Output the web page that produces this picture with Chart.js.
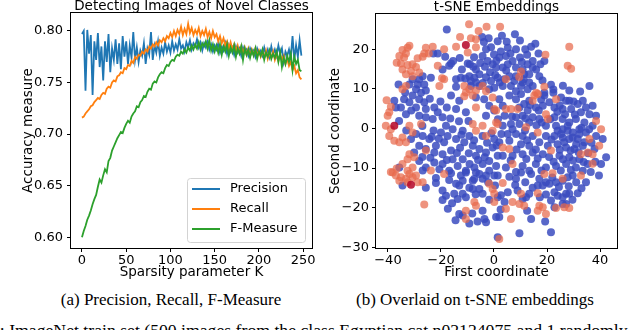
<!DOCTYPE html>
<html>
<head>
<meta charset="utf-8">
<script src="https://cdn.jsdelivr.net/npm/chart.js@4.4.1/dist/chart.umd.min.js"></script>
<style>
    body { margin: 0; width: 640px; height: 330px; overflow: hidden; background: #fff; position: relative; }
    .panel { position: absolute; top: 0; width: 320px; height: 290px; }
    .caption { position: absolute; font-family: 'Liberation Serif', serif; font-size: 17px; line-height: 20px; text-align: center; color: #000; white-space: nowrap; }
</style>
</head>
<body>
<div class="panel" style="left:0"><canvas id="accuracyChart" width="320" height="290"></canvas></div>
<div class="panel" style="left:320px"><canvas id="tsneChart" width="320" height="290"></canvas></div>
<div class="caption" style="left:0;width:342px;top:290px">(a) Precision, Recall, F-Measure</div>
<div class="caption" style="left:320px;width:310px;top:290px">(b) Overlaid on t-SNE embeddings</div>
<div class="caption" style="left:-9px;top:320px;text-align:left;font-size:17.7px">y: ImageNet train set (500 images from the class Egyptian cat n02124075 and 1 randomly</div>
<script>
// Left panel data: sparsity parameter K and the three measures
const sparsityK = [
    0, 2, 4, 6, 8, 10, 12, 14, 16, 18, 20, 22, 24, 26, 28, 30, 32, 34, 36, 38,
    40, 42, 44, 46, 48, 50, 52, 54, 56, 58, 60, 62, 64, 66, 68, 70, 72, 74, 76, 78,
    80, 82, 84, 86, 88, 90, 92, 94, 96, 98, 100, 102, 104, 106, 108, 110, 112, 114, 116, 118,
    120, 122, 124, 126, 128, 130, 132, 134, 136, 138, 140, 142, 144, 146, 148, 150, 152, 154, 156, 158,
    160, 162, 164, 166, 168, 170, 172, 174, 176, 178, 180, 182, 184, 186, 188, 190, 192, 194, 196, 198,
    200, 202, 204, 206, 208, 210, 212, 214, 216, 218, 220, 222, 224, 226, 228, 230, 232, 234, 236, 238,
    240, 242, 244, 246, 248
];
const precision = [
    0.797, 0.800, 0.742, 0.801, 0.778, 0.796, 0.738, 0.790, 0.772, 0.798,
    0.765, 0.785, 0.752, 0.790, 0.770, 0.797, 0.760, 0.783, 0.772, 0.792,
    0.768, 0.788, 0.763, 0.795, 0.775, 0.790, 0.768, 0.786, 0.774, 0.799,
    0.772, 0.784, 0.770, 0.781, 0.776, 0.788, 0.768, 0.783, 0.777, 0.799,
    0.772, 0.786, 0.779, 0.790, 0.776, 0.784, 0.778, 0.789, 0.780, 0.786,
    0.779, 0.790, 0.781, 0.787, 0.782, 0.792, 0.783, 0.786, 0.780, 0.789,
    0.784, 0.791, 0.782, 0.788, 0.785, 0.792, 0.784, 0.789, 0.781, 0.788,
    0.784, 0.790, 0.782, 0.787, 0.780, 0.786, 0.782, 0.788, 0.779, 0.785,
    0.781, 0.788, 0.778, 0.786, 0.780, 0.784, 0.777, 0.785, 0.779, 0.783,
    0.776, 0.784, 0.779, 0.782, 0.776, 0.783, 0.778, 0.781, 0.775, 0.783,
    0.778, 0.781, 0.776, 0.784, 0.777, 0.782, 0.775, 0.785, 0.777, 0.782,
    0.776, 0.786, 0.778, 0.783, 0.770, 0.780, 0.776, 0.782, 0.774, 0.795,
    0.772, 0.786, 0.775, 0.791, 0.776
];
const recall = [
    0.716, 0.717, 0.720, 0.722, 0.724, 0.727, 0.728, 0.731, 0.733, 0.735,
    0.734, 0.738, 0.740, 0.739, 0.744, 0.746, 0.745, 0.750, 0.752, 0.751,
    0.756, 0.757, 0.760, 0.759, 0.764, 0.763, 0.767, 0.766, 0.771, 0.769,
    0.775, 0.773, 0.777, 0.776, 0.780, 0.778, 0.782, 0.780, 0.785, 0.783,
    0.787, 0.785, 0.789, 0.786, 0.791, 0.789, 0.793, 0.790, 0.795, 0.793,
    0.798, 0.794, 0.800, 0.795, 0.801, 0.797, 0.804, 0.796, 0.802, 0.797,
    0.807, 0.798, 0.803, 0.796, 0.801, 0.797, 0.803, 0.795, 0.800, 0.796,
    0.802, 0.794, 0.799, 0.793, 0.800, 0.794, 0.797, 0.790, 0.795, 0.788,
    0.793, 0.786, 0.790, 0.783, 0.789, 0.782, 0.787, 0.780, 0.786, 0.779,
    0.785, 0.778, 0.784, 0.777, 0.783, 0.776, 0.782, 0.777, 0.783, 0.776,
    0.781, 0.775, 0.780, 0.774, 0.781, 0.773, 0.779, 0.774, 0.780, 0.772,
    0.778, 0.771, 0.777, 0.772, 0.776, 0.768, 0.773, 0.766, 0.770, 0.762,
    0.766, 0.759, 0.762, 0.755, 0.753
];
const fMeasure = [
    0.600, 0.606, 0.611, 0.617, 0.621, 0.626, 0.632, 0.637, 0.641, 0.649,
    0.656, 0.653, 0.660, 0.666, 0.663, 0.674, 0.677, 0.684, 0.688, 0.692,
    0.696, 0.699, 0.702, 0.701, 0.706, 0.710, 0.713, 0.711, 0.717, 0.720,
    0.722, 0.727, 0.726, 0.731, 0.733, 0.737, 0.736, 0.741, 0.744, 0.743,
    0.749, 0.751, 0.750, 0.755, 0.758, 0.760, 0.759, 0.764, 0.767, 0.766,
    0.770, 0.772, 0.771, 0.775, 0.777, 0.776, 0.780, 0.778, 0.782, 0.779,
    0.784, 0.781, 0.786, 0.782, 0.787, 0.783, 0.789, 0.782, 0.788, 0.785,
    0.790, 0.783, 0.791, 0.781, 0.787, 0.780, 0.786, 0.779, 0.787, 0.777,
    0.785, 0.780, 0.787, 0.776, 0.784, 0.779, 0.786, 0.775, 0.783, 0.778,
    0.785, 0.772, 0.783, 0.777, 0.782, 0.774, 0.781, 0.776, 0.783, 0.773,
    0.780, 0.776, 0.782, 0.772, 0.779, 0.775, 0.781, 0.773, 0.778, 0.774,
    0.780, 0.770, 0.779, 0.765, 0.774, 0.768, 0.776, 0.770, 0.778, 0.762,
    0.775, 0.768, 0.772, 0.762, 0.761
];
const kTicks = [0, 50, 100, 150, 200, 250];
const accuracyTicks = [0.60, 0.65, 0.70, 0.75, 0.80];

// Right panel data: t-SNE coordinates [first, second]
const bluePoints = [
    [-17.8,25.0],[-4.5,23.1],[-3.8,21.8],[-1.1,20.5],[-3.0,20.0],[-4.3,18.3],[0,18.7],[-7.5,18.0],[-9.1,16.2],[-2.4,17.0],
    [-0.5,16.2],[0.8,15.4],[-6.8,14.9],[-5.5,13.7],[-9.3,13.2],[-7.4,12.8],[-8.7,12.0],[-6.8,11.6],[-8.7,10.7],[-5.5,10.7],
    [-3.0,12.9],[-1.1,12.0],[-1.8,9.9],[0.1,10.3],[-14.3,10.5],[-12.1,14.9],[-9.9,16.4],[-16.2,16.4],[-15.4,17.0],[-16.9,15.8],
    [-19.4,14.9],[-21.2,18.9],[-18.4,18.1],[-22.9,18.9],[-26.9,13.2],[-28.2,12.4],[-30.7,12.4],[-28.8,11.1],[-26.3,11.1],[-23.8,12.8],
    [-31.9,11.1],[-29.4,9.9],[-25.7,9.6],[-36.0,11.1],[-14.3,12.4],[-12.5,12.8],[0.5,13.5],
    [7.9,23.8],[3.0,23.4],[1.4,22.0],[5.2,20.4],[8.3,20.0],[11.8,20.0],[14.0,20.6],[15.6,21.4],[2.6,19.4],[4.5,18.3],
    [2.0,17.9],[9.8,17.9],[7.0,17.0],[5.2,16.2],[8.3,15.4],[3.3,15.4],[12.7,16.2],[14.6,17.0],[10.8,14.9],[14.6,15.4],
    [15.9,14.9],[19.0,17.0],[17.1,13.2],[13.3,13.7],[11.4,13.7],[8.3,13.2],[5.8,13.2],[3.9,12.4],[1.4,12.8],[7.7,12.0],
    [10.8,11.6],[13.3,11.6],[10.2,10.7],[6.4,10.7],[3.3,10.7],[12.7,9.9],[8.3,9.4],[14.6,10.7],[21.5,11.0],[22.4,9.0],
    [28.4,9.6],[32.5,9.3],[36.0,10.7],[19.0,9.0],
    [-30.7,8.3],[-28.2,7.4],[-26.3,6.6],[-31.9,6.6],[-35.1,5.3],[-29.4,5.3],[-25.7,4.9],[-22.5,5.3],[-21.2,4.1],[-19.4,2.8],
    [-23.1,2.4],[-25.7,2.8],[-28.2,3.2],[-33.2,3.6],[-37.0,5.3],[-37.6,7.0],[-33.9,7.4],
    [-16.2,8.3],[-14.3,4.9],[-18.1,0.7],[-15.6,-0.2],[-11.8,-0.6],[-20.0,-1.0],[-17.5,-1.9],[-14.3,-2.7],[-11.2,-3.5],[-18.8,-3.5],
    [-21.9,-4.4],[-24.4,-2.7],[-26.9,-1.9],[-29.4,-1.4],[-31.3,-2.7],[-28.2,-4.4],[-30.1,-6.1],[-25.7,-5.2],[-22.5,-6.1],[-19.4,-6.5],
    [-16.2,-5.6],[-15.6,-7.8],[-11.8,-7.8],[-13.7,-9.5],[-19.4,-9.0],[-22.5,-8.6],[-25.7,-9.9],[-28.2,-8.2],[-20.6,-10.3],[-16.9,-10.7],
    [-10.6,-10.7],[-8.0,-4.4],[-5.5,-5.2],[-3.0,-6.1],[-0.5,-4.8],[-6.8,-6.9],[-1.8,-8.2],[-4.3,-9.0],[0.8,-9.5],[-7.4,-9.9],
    [-1.8,-10.7],[1.4,-6.9],[0.1,-2.7],[-4.3,-1.9],[-9.3,-1.9],[-6.8,7.8],[-3.7,7.4],[-1.8,5.7],[0.1,4.5],[-3.0,3.2],
    [-10.6,4.1],[-13.1,7.0],[-35.7,-9.9],
    [2.0,7.4],[5.8,8.3],[8.3,7.4],[10.2,8.7],[11.4,6.2],[13.3,7.0],[19.0,8.3],[20.9,6.6],[25.3,7.8],[28.4,7.0],
    [31.6,6.2],[34.7,5.3],[37.2,5.7],[3.3,5.7],[9.6,5.3],[12.7,4.5],[15.8,5.3],[18.4,5.7],[22.8,5.3],[25.9,4.9],
    [29.1,4.9],[32.8,4.1],[36.0,3.6],[38.5,3.2],[8.3,2.8],[10.8,3.2],[14.6,2.8],[17.1,2.4],[22.8,2.8],[25.9,2.4],
    [28.4,1.5],[30.9,2.4],[34.1,1.5],[37.2,0.7],[3.3,0.7],[6.4,1.1],[9.6,1.1],[13.3,1.5],[19.6,0.7],[23.4,0.7],
    [25.9,-0.2],[27.8,-0.6],[29.7,-1.0],[32.2,-0.2],[34.7,-1.0],[5.2,-1.4],[8.3,-1.4],[10.8,-1.9],[14.6,-1.9],[19.6,-1.9],
    [22.8,-1.9],[25.9,-2.3],[28.4,-2.7],[31.6,-2.7],[34.1,-3.5],[2.0,-3.5],[5.8,-3.1],[10.2,-4.0],[13.3,-4.4],[17.1,-3.5],
    [20.3,-4.4],[24.0,-4.0],[27.2,-4.8],[30.3,-5.2],[33.5,-4.4],[38.5,-1.9],[41.0,-2.7],[42.3,-7.3],[3.3,-6.9],[7.0,-6.9],
    [10.8,-6.5],[14.6,-6.1],[18.4,-6.5],[24.7,-6.9],[28.4,-7.3],[32.2,-7.8],[35.3,-9.0],[40.4,-9.0],[4.5,-9.9],[10.8,-9.5],
    [15.8,-9.0],[19.6,-9.9],[23.4,-9.5],[27.2,-9.0],[30.9,-9.9],[33.5,-10.7],[13.3,-10.7],[8.3,-11.0],
    [25.3,-1.4],[27.8,0.7],[29.7,-2.3],[26.5,-3.5],[31.0,-4.0],[24.0,-0.6],[32.2,-1.4],
    [-34.5,-14.4],[-25.7,-15.0],[-21.9,-12.5],[-21.9,-13.8],[-26.9,-10.6],[-16.2,-11.3],[-12.5,-11.9],[-10.6,-11.1],[-14.3,-14.0],[-13.1,-14.4],
    [-11.8,-13.2],[-8.0,-13.2],[-6.8,-11.1],[-4.3,-12.7],[-5.5,-11.5],[-3.0,-11.9],[0.1,-11.9],[-19.4,-15.7],[-18.1,-17.0],[-19.4,-18.1],
    [-15.0,-16.5],[-13.7,-17.8],[-11.8,-16.5],[-10.6,-17.4],[-8.0,-15.3],[-5.5,-15.3],[-4.3,-16.5],[-4.3,-20.8],[-13.1,-21.6],[-11.8,-22.0],
    [-9.3,-24.0],[-6.2,-23.5],[-3.6,-22.9],[-3.0,-23.7],[0.8,-22.4],[1.4,-27.5],
    [1.4,-11.9],[5.8,-12.2],[8.3,-12.7],[10.2,-11.1],[14.0,-11.5],[17.1,-12.7],[16.5,-14.4],[14.6,-15.0],[18.4,-14.4],[19.6,-13.6],
    [20.9,-14.0],[23.4,-13.6],[25.9,-13.2],[27.8,-12.3],[29.7,-11.9],[31.0,-13.6],[34.7,-13.6],[22.8,-16.1],[24.0,-17.0],[25.9,-17.4],
    [27.2,-16.5],[28.4,-16.5],[31.6,-16.4],[19.6,-16.7],[13.3,-16.5],[10.8,-17.8],[12.1,-17.4],[8.9,-15.7],[5.2,-16.1],[2.6,-16.9],
    [1.4,-17.4],[22.8,-19.9],[25.9,-19.1],[14.0,-22.9],[2.0,-22.4],[9.6,-26.5],[21.5,-26.2],
    [-2.0,22.8],[4.8,21.9],[9.8,22.2],[12.5,18.6],[6.2,18.9],[0.9,17.1],[-3.4,15.6],[10.5,16.8],[16.8,18.9],[17.5,16.2],
    [11.2,12.4],[4.6,14.6],[-1.5,14.2],[-4.2,11.5],[2.2,11.6],[-10.8,12.6],[-12.9,17.8],[-7.8,15.6],[-5.2,16.5],[18.3,12.1],
    [-27.5,9.0],[-33.5,9.1],[-24.2,7.5],[-20.2,6.8],[-17.8,5.3],[-35.8,1.9],[-31.2,4.5],[-27.0,0.6],[-22.8,-0.5],[-23.5,-2.1],
    [-20.8,-2.6],[-33.1,-0.5],[-27.0,-7.2],[-24.0,-7.4],[-17.8,-8.0],[-14.0,-6.2],[-12.8,-4.9],[-9.5,-6.3],[-13.2,1.8],[-9.6,1.9],
    [-12.3,-1.6],[-16.5,2.5],[-7.5,-3.0],[-2.6,-3.6],[-1.0,-1.2],[2.8,-1.4],[-6.0,-8.0],[-9.2,-9.0],[-3.5,-7.3],[1.0,-4.3],
    [4.0,3.2],[6.8,3.0],[11.9,2.6],[16.0,0.8],[21.2,2.3],[18.0,1.5],[23.9,4.2],[26.8,3.6],[30.5,3.5],[33.0,0.2],
    [35.9,-0.2],[36.8,-3.6],[11.7,-0.5],[7.0,-0.2],[12.5,-3.0],[15.8,-5.3],[21.7,-2.8],[24.8,-5.4],[28.9,-5.6],[31.9,-6.0],
    [35.5,-6.3],[37.9,-5.2],[8.5,-5.3],[12.2,-7.7],[16.5,-7.6],[20.8,-7.2],[22.5,-8.4],[26.0,-7.8],[29.8,-8.1],[33.8,-8.5],
    [38.2,-8.4],[6.3,-8.1],[17.9,-10.6],[25.2,-10.6],[29.0,-10.5],[36.5,-11.0],[39.6,-11.9],[11.8,-13.6],[8.0,-14.3],[22.0,-12.4],
    [28.2,-14.6],[33.0,-15.1],[24.5,-14.8],[17.3,-17.4],[21.5,-18.2],[29.6,-18.0],[27.2,-19.1],[4.0,-18.6],[0.4,-14.4],[-2.2,-13.6],
    [-7.5,-12.8],[-9.3,-15.0],[-16.9,-13.0],[-15.8,-18.9],[-17.4,-20.3],[-14.5,-23.2],[-8.2,-21.5],[-6.9,-16.6],[-1.8,-18.0],[2.5,-20.5],
    [19.3,-23.5],[12.5,-20.8],[17.8,7.3],[22.4,9.8],[24.8,5.8],[27.2,7.0],[33.5,7.0],[30.0,6.8],[26.0,10.8],[16.9,4.5],
    [13.6,5.9],[1.5,2.3]
];
const redPoints = [
    [-9.4,26.3],[-5.8,24.6],[-2.8,25.7],[-12.8,23.1],[-8.7,22.8],[-6.8,22.5],[-14.3,20.6],[-9.9,19.2],[-6.8,20.5],[-6.8,9.6],
    [-4.3,10.7],[-3.0,9.4],[-11.2,10.7],[-9.3,9.9],[-10.6,9.1],[-25.7,20.4],[-23.1,20.6],[-18.8,20.0],[-26.3,18.9],[-24.6,18.9],
    [-28.8,17.7],[-26.9,18.1],[-34.5,19.8],[-32.6,20.4],[-31.9,20.9],[-33.2,18.9],[-35.7,18.3],[-33.9,17.9],[-36.7,16.6],[-35.1,16.4],
    [-32.6,16.0],[-30.7,16.2],[-29.4,15.5],[-34.5,14.9],[-31.3,14.5],[-33.2,13.7],[-30.7,13.2],[-28.2,14.1],[-21.2,15.8],[-19.6,12.7],
    [-18.8,12.4],[-20.6,10.7],[-33.2,10.7],[-34.5,9.9],
    [2.3,25.7],[28.4,20.6],[19.4,18.6],[10.2,14.4],[9.5,13.0],[4.5,12.4],[19.0,10.5],[15.9,9.0],[27.8,15.8],[29.1,15.1],
    [-11.2,8.1],[-8.0,8.3],[-0.5,7.8],[-6.8,5.3],[0.1,4.9],[-8.0,1.1],[-6.8,-0.6],[-4.3,0.7],[-3.0,-1.9],[-0.5,-0.6],
    [0.8,1.5],[-39.5,4.1],[-40.1,3.2],[-40.8,0.7],[-38.9,-0.2],[-39.5,-1.9],[-37.6,-3.1],[-35.7,-3.5],[-33.2,-3.5],[-34.5,-2.3],
    [-31.9,0.7],[-30.7,-1.0],[-27.5,1.1],[-25.7,-5.6],[-31.9,-6.5],[-32.6,-7.8],[-30.1,-7.3],[-34.5,-9.0],[-30.7,-9.9],[-32.6,-10.7],
    [-38.2,-11.1],[-40.5,7.1],[-38.9,5.5],[-36.7,-10.1],
    [15.2,8.3],[16.5,8.7],[14.6,7.0],[23.4,7.4],[0.8,4.5],[4.5,4.9],[6.4,4.9],[8.9,4.9],[19.6,3.6],[20.3,2.4],
    [1.4,1.1],[12.1,0.3],[16.5,-1.0],[38.5,1.9],[40.4,-0.2],[36.0,-2.7],[39.7,-4.4],[35.4,-6.1],[37.2,-6.5],[32.8,-6.5],
    [21.5,-5.6],[3.3,-4.8],[5.8,-5.2],[7.0,-9.0],[37.2,-8.9],
    [-38.9,-11.0],[-37.0,-11.9],[-35.1,-12.3],[-33.2,-12.7],[-31.9,-11.5],[-30.7,-12.3],[-29.4,-11.9],[-35.7,-13.2],[-32.6,-13.6],[-28.8,-13.6],
    [-26.9,-13.6],[-26.3,-19.2],[-23.8,-10.6],[-18.8,-11.5],[-1.8,-14.0],[-0.5,-15.3],[0.1,-16.5],[0.1,-18.6],[-7.4,-18.6],[-6.8,-19.5],
    [-10.6,-20.8],[-10.6,-22.9],
    [3.3,-13.8],[10.2,-16.5],[16.5,-16.4],[19.0,-11.5],[22.1,-11.3],[25.9,-12.7],[32.8,-11.9],[7.0,-18.6],[9.6,-19.1],[11.4,-19.5],
    [4.5,-20.3],[6.4,-22.9],[17.1,-19.5],[18.4,-19.9],[16.5,-20.8],[19.6,-21.6],[23.4,-20.1],[26.5,-19.9],[28.4,-20.1],[2.0,-27.9]
];
const darkRedPoints = [[-10.6,21.1],[-37.6,0.7],[-31.3,-14.2]];
const tsneXTicks = [-40, -20, 0, 20, 40];
const tsneYTicks = [-30, -20, -10, 0, 10, 20];

Chart.defaults.font.family = "'DejaVu Sans', sans-serif";
Chart.defaults.color = '#000';

function toPoints(list) {
    return list.map(p => ({ x: p[0], y: p[1] }));
}

function minusSign(v) {
    return v < 0 ? '\u2212' + Math.abs(v) : String(v);
}

// Frame round the plot area plus the panel title
const framePlugin = {
    id: 'frame',
    afterDraw(chart, args, opts) {
        const { ctx, chartArea: a } = chart;
        ctx.save();
        ctx.strokeStyle = '#000';
        ctx.lineWidth = 1;
        ctx.strokeRect(Math.round(a.left) - 0.5, Math.round(a.top) - 0.5, Math.round(a.right - a.left) + 1, Math.round(a.bottom - a.top) + 1);
        ctx.fillStyle = '#000';
        ctx.font = "13.5px 'DejaVu Sans'";
        ctx.textAlign = 'center';
        ctx.textBaseline = 'alphabetic';
        ctx.fillText(opts.title, (a.left + a.right) / 2, opts.titleY);
        ctx.restore();
    }
};

// Matplotlib style legend box in the lower right corner
const boxLegendPlugin = {
    id: 'boxLegend',
    afterDraw(chart) {
        const { ctx, chartArea: a } = chart;
        const w = 118, h = 64;
        const x = Math.round(a.right) - 7 - w;
        const y = Math.round(a.bottom) - 6 - h;
        ctx.save();
        ctx.beginPath();
        ctx.roundRect(x + 0.5, y + 0.5, w, h, 3);
        ctx.fillStyle = 'rgba(255,255,255,0.8)';
        ctx.fill();
        ctx.strokeStyle = '#d3d3d3';
        ctx.lineWidth = 1;
        ctx.stroke();
        ctx.font = "13px 'DejaVu Sans'";
        ctx.textAlign = 'left';
        ctx.textBaseline = 'middle';
        chart.data.datasets.forEach((ds, i) => {
            const ly = y + 11 + i * 20;
            ctx.strokeStyle = ds.borderColor;
            ctx.lineWidth = 2;
            ctx.beginPath();
            ctx.moveTo(x + 5, ly);
            ctx.lineTo(x + 33, ly);
            ctx.stroke();
            ctx.fillStyle = '#000';
            ctx.fillText(ds.label, x + 43, ly);
        });
        ctx.restore();
    }
};

function tickGrid() {
    return { drawOnChartArea: false, drawTicks: true, tickLength: 4, tickColor: '#000', tickWidth: 1 };
}

// Precision / Recall / F-Measure chart
new Chart(document.getElementById('accuracyChart'), {
    type: 'line',
    data: {
        datasets: [
            { label: 'Precision', data: sparsityK.map((k, i) => ({ x: k, y: precision[i] })), borderColor: '#1f77b4', order: 3 },
            { label: 'Recall', data: sparsityK.map((k, i) => ({ x: k, y: recall[i] })), borderColor: '#ff7f0e', order: 2 },
            { label: 'F-Measure', data: sparsityK.map((k, i) => ({ x: k, y: fMeasure[i] })), borderColor: '#2ca02c', order: 1 }
        ]
    },
    options: {
        responsive: false,
        animation: false,
        devicePixelRatio: 1,
        layout: { padding: { left: 0, right: 8, top: 13, bottom: 0 } },
        elements: {
            line: { borderWidth: 1.8, tension: 0, fill: false },
            point: { radius: 0 }
        },
        scales: {
            x: {
                type: 'linear',
                min: -12.4,
                max: 260,
                afterBuildTicks: s => { s.ticks = kTicks.map(v => ({ value: v })); },
                afterFit: s => { s.height = 42; },
                ticks: { font: { size: 13 }, color: '#000', padding: 1, maxRotation: 0, autoSkip: false },
                grid: tickGrid(),
                border: { display: false },
                title: { display: true, text: 'Sparsity parameter K', font: { size: 13.5 }, color: '#000', padding: { top: 0, bottom: 9 } }
            },
            y: {
                min: 0.5896,
                max: 0.8174,
                afterBuildTicks: s => { s.ticks = accuracyTicks.map(v => ({ value: v })); },
                afterFit: s => { s.width = 71; },
                ticks: { font: { size: 13 }, color: '#000', padding: 4, callback: v => v.toFixed(2) },
                grid: tickGrid(),
                border: { display: false },
                title: { display: true, text: 'Accuracy measure', font: { size: 13.5 }, color: '#000', padding: { top: 20, bottom: 0 } }
            }
        },
        plugins: {
            legend: { display: false },
            tooltip: { enabled: false },
            frame: { title: 'Detecting Images of Novel Classes', titleY: 10 }
        }
    },
    plugins: [framePlugin, boxLegendPlugin]
});

// t-SNE scatter chart
new Chart(document.getElementById('tsneChart'), {
    type: 'scatter',
    data: {
        datasets: [
            { data: toPoints(darkRedPoints), backgroundColor: 'rgba(180,4,38,0.85)' },
            { data: toPoints(redPoints), backgroundColor: 'rgba(232,105,76,0.72)' },
            { data: toPoints(bluePoints), backgroundColor: 'rgba(59,76,192,0.85)' }
        ]
    },
    options: {
        responsive: false,
        animation: false,
        devicePixelRatio: 1,
        layout: { padding: { left: 0, right: 23, top: 14, bottom: 0 } },
        elements: { point: { radius: 4, borderWidth: 0, hoverRadius: 4 } },
        scales: {
            x: {
                type: 'linear',
                min: -44.5,
                max: 46.4,
                afterBuildTicks: s => { s.ticks = tsneXTicks.map(v => ({ value: v })); },
                afterFit: s => { s.height = 42; },
                ticks: { font: { size: 13 }, color: '#000', padding: 1, maxRotation: 0, autoSkip: false, callback: minusSign },
                grid: tickGrid(),
                border: { display: false },
                title: { display: true, text: 'First coordinate', font: { size: 13.5 }, color: '#000', padding: { top: 0, bottom: 9 } }
            },
            y: {
                min: -30.2,
                max: 28.9,
                afterBuildTicks: s => { s.ticks = tsneYTicks.map(v => ({ value: v })); },
                afterFit: s => { s.width = 56; },
                ticks: { font: { size: 13 }, color: '#000', padding: 3, callback: minusSign },
                grid: tickGrid(),
                border: { display: false },
                title: { display: true, text: 'Second coordinate', font: { size: 13.5 }, color: '#000', padding: { top: 7, bottom: 0 } }
            }
        },
        plugins: {
            legend: { display: false },
            tooltip: { enabled: false },
            frame: { title: 't-SNE Embeddings', titleY: 10.5 }
        }
    },
    plugins: [framePlugin]
});
</script>
</body>
</html>
